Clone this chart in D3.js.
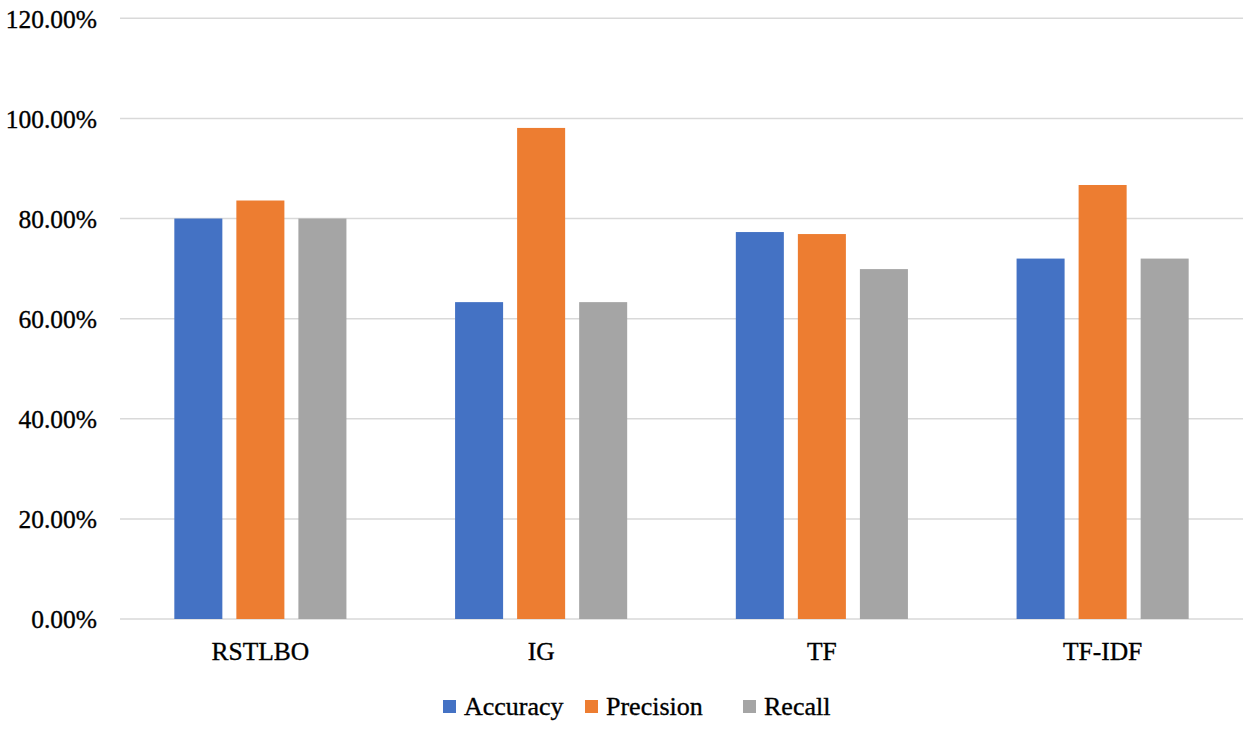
<!DOCTYPE html>
<html>
<head>
<meta charset="utf-8">
<script src="https://cdn.jsdelivr.net/npm/d3@7"></script>
<style>
  body { margin: 0; background: #fff; }
</style>
</head>
<body>
<svg width="1250" height="729"></svg>
<script>
const categories = ['RSTLBO', 'IG', 'TF', 'TF-IDF'];
const seriesNames = ['Accuracy', 'Precision', 'Recall'];
const accuracy = [80.0, 63.3, 77.3, 72.0];
const precision = [83.6, 98.1, 76.9, 86.7];
const recall = [80.0, 63.3, 69.9, 72.0];
const yTicks = [0, 20, 40, 60, 80, 100, 120];
const colors = ['#4472C4', '#ED7D31', '#A5A5A5'];

const FONT = "'Times New Roman', 'Liberation Serif', Times, serif";
const values = [accuracy, precision, recall];
const svg = d3.select('svg');

const plotLeft = 120, plotRight = 1243, plotTop = 18.3, plotBottom = 619;

const x0 = d3.scaleBand()
    .domain(categories)
    .range([plotLeft, plotRight])
    .paddingInner(0.387)
    .paddingOuter(0.1935);

const x1 = d3.scaleBand()
    .domain(seriesNames)
    .range([0, x0.bandwidth()])
    .paddingInner(0.2258)
    .paddingOuter(0);

const y = d3.scaleLinear().domain([0, 120]).range([plotBottom, plotTop]);

function styleText(sel, size) {
    sel.style('font-family', FONT)
        .style('font-size', size)
        .style('fill', '#000')
        .style('stroke', '#000')
        .style('stroke-width', '0.35px');
}

// gridlines
svg.append('g')
    .selectAll('line')
    .data(yTicks)
    .join('line')
    .attr('x1', plotLeft)
    .attr('x2', plotRight)
    .attr('y1', d => y(d))
    .attr('y2', d => y(d))
    .attr('stroke', '#d9d9d9')
    .attr('stroke-width', 1.5);

// y labels
const yAxis = d3.axisLeft(y).tickValues(yTicks).tickFormat(d => d.toFixed(2) + '%').tickSize(0).tickPadding(0);
const gy = svg.append('g').attr('transform', 'translate(97,0)').call(yAxis);
gy.attr('font-family', null);
gy.select('.domain').remove();
gy.selectAll('text').attr('dy', '0.35em').call(styleText, '25.5px');

// bars
const groups = svg.append('g')
    .selectAll('g')
    .data(categories)
    .join('g')
    .attr('transform', d => `translate(${x0(d)},0)`);

groups.selectAll('rect')
    .data((c, i) => seriesNames.map((s, j) => ({ s, j, v: values[j][i] })))
    .join('rect')
    .attr('x', d => x1(d.s))
    .attr('width', x1.bandwidth())
    .attr('y', d => y(d.v))
    .attr('height', d => plotBottom - y(d.v))
    .attr('fill', d => colors[d.j]);

// x labels
const xAxis = d3.axisBottom(x0).tickSize(0).tickPadding(0);
const gx = svg.append('g').attr('transform', `translate(0,${plotBottom})`).call(xAxis);
gx.attr('font-family', null);
gx.select('.domain').remove();
gx.selectAll('text').attr('dy', null).attr('y', 41).call(styleText, '25.5px');

// legend
const legendX = [443, 585, 743];
const legend = svg.append('g')
    .selectAll('g')
    .data(seriesNames)
    .join('g')
    .attr('transform', (d, i) => `translate(${legendX[i]},700)`);
legend.append('rect')
    .attr('width', 13)
    .attr('height', 13)
    .attr('fill', (d, i) => colors[i]);
legend.append('text')
    .attr('x', 21)
    .attr('y', 15)
    .text(d => d)
    .call(styleText, '26px');
</script>
</body>
</html>
